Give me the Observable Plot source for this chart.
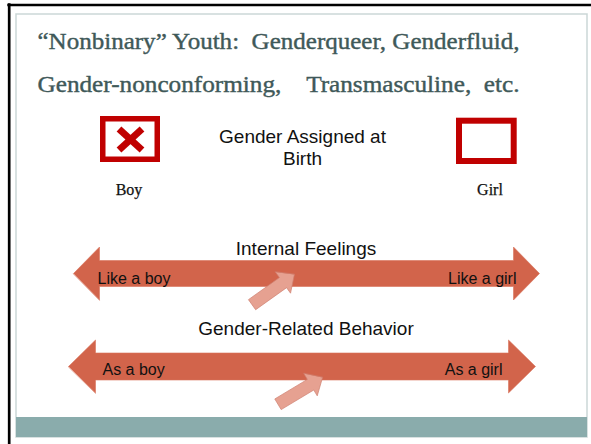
<!DOCTYPE html>
<html><head><meta charset="utf-8">
<script src="https://cdn.jsdelivr.net/npm/d3@7"></script>
<script src="https://cdn.jsdelivr.net/npm/@observablehq/plot@0.6"></script>
<style>body{margin:0;background:#fff} svg text{white-space:pre}</style>
</head><body><div id="chart"></div>
<script>
// ---- content ----
const titleLines = ["\u201CNonbinary\u201D Youth:  Genderqueer, Genderfluid,", "Gender-nonconforming,    Transmasculine,  etc."];
const headerLines = ["Gender Assigned at", "Birth"];
const sexLabels = ["Boy", "Girl"];
const sexMarked = [true, false];
const spectrumTitles = ["Internal Feelings", "Gender-Related Behavior"];
const leftEnds = ["Like a boy", "As a boy"];
const rightEnds = ["Like a girl", "As a girl"];
const youthPositions = [0.474, 0.544]; // 0 = boy end, 1 = girl end of each spectrum

// ---- layout ----
const W = 591, H = 444;
const titleBase = [48, 91], titleX = 37, titleWidth = 482, titleSize = 23;
const headerX = 302, headerBase = [142, 164], headerSize = 19;
const boxX1 = [102.75, 459], boxX2 = [157.25, 513.7], boxY1 = [118.75, 120.7], boxY2 = [159.25, 161], boxSW = [5.5, 6];
const sexLabelX = [128.5, 489.5], sexLabelBase = 194;
const rowY = [273, 366], rowXL = [73, 68], rowXR = [539, 535];
const shaftHalf = [13, 13.5], headHalf = [26.5, 26.5], headLen = [26, 27];
const rowTitleX = 305.5, rowTitleBase = [254, 334], rowTitleSize = 19;
const endBase = [283, 374], endInsetL = [24, 34], endInsetR = [23, 33], endSize = 16;
const pointerDy = [1, 11], pointerAngle = [-35.5, -31];
const red = "#c00000", arrowCol = "#d2644b", pointerCol = "#e6a191", ink = "#111";
const mid = (base, fs) => base - 0.32 * fs;

// big double arrows
const bigArrows = [];
spectrumTitles.forEach((t, i) => {
  const xl = rowXL[i], xr = rowXR[i], yc = rowY[i], s = shaftHalf[i], hh = headHalf[i], hl = headLen[i];
  [[xl, yc], [xl + hl, yc - hh], [xl + hl, yc - s], [xr - hl, yc - s], [xr - hl, yc - hh], [xr, yc],
   [xr - hl, yc + hh], [xr - hl, yc + s], [xl + hl, yc + s], [xl + hl, yc + hh]]
    .forEach(([x, y]) => bigArrows.push({id: t, x, y}));
});

// pointer arrows placed at the youth's position on each spectrum
const pointers = [];
youthPositions.forEach((p, i) => {
  const tx = rowXL[i] + p * (rowXR[i] - rowXL[i]), ty = rowY[i] + pointerDy[i];
  const th = pointerAngle[i] * Math.PI / 180, ux = Math.cos(th), uy = Math.sin(th), nx = -uy, ny = ux;
  [[0, 0], [-14, 13], [-14, 6.2], [-52, 6.2], [-52, -6.2], [-14, -6.2], [-14, -13]]
    .forEach(([a, b]) => pointers.push({id: i, x: tx + a * ux + b * nx, y: ty + a * uy + b * ny}));
});

const crossLinks = sexMarked.flatMap((m, i) => m ? [
  {x1: (boxX1[i] + boxX2[i]) / 2 - 11.5, y1: (boxY1[i] + boxY2[i]) / 2 - 10.5, x2: (boxX1[i] + boxX2[i]) / 2 + 11.5, y2: (boxY1[i] + boxY2[i]) / 2 + 10.5},
  {x1: (boxX1[i] + boxX2[i]) / 2 + 11.5, y1: (boxY1[i] + boxY2[i]) / 2 - 10.5, x2: (boxX1[i] + boxX2[i]) / 2 - 11.5, y2: (boxY1[i] + boxY2[i]) / 2 + 10.5}
] : []);

const boxes = sexLabels.map((l, i) => ({x1: boxX1[i], x2: boxX2[i], y1: boxY1[i], y2: boxY2[i], sw: boxSW[i]}));

const serif = "Liberation Serif, Times New Roman, serif";
const sans = "Liberation Sans, Arial, sans-serif";

const chart = Plot.plot({
  width: W, height: H, margin: 0,
  x: {domain: [0, W], range: [0, W], axis: null},
  y: {domain: [0, H], range: [0, H], axis: null},
  marks: [
    // slide frame
    Plot.rect([0], {x1: 16, x2: 587, y1: 14, y2: 437, fill: "none", stroke: "#cbd7d7", strokeWidth: 1.5}),
    Plot.rect([0], {x1: 16, x2: 587, y1: 417, y2: 437, fill: "#8aacac"}),
    Plot.ruleX([8.7], {y1: 3.3, y2: H, stroke: "#000", strokeWidth: 2.7}),
    Plot.ruleY([4.5], {x1: 7.3, x2: W, stroke: "#000", strokeWidth: 2.4}),
    // title
    Plot.text(titleLines, {x: titleX, y: (d, i) => mid(titleBase[i], titleSize), text: d => d, textAnchor: "start",
      fontFamily: serif, fontSize: titleSize, fill: "#3f5959", stroke: "#3f5959", strokeWidth: 0.4}),
    // header
    Plot.text(headerLines, {x: headerX, y: (d, i) => mid(headerBase[i], headerSize), text: d => d,
      fontFamily: sans, fontSize: headerSize, fill: ink}),
    // boxes
    ...boxes.map(b => Plot.rect([b], {x1: "x1", x2: "x2", y1: "y1", y2: "y2", fill: "#fff", stroke: red, strokeWidth: b.sw})),
    Plot.link(crossLinks, {x1: "x1", y1: "y1", x2: "x2", y2: "y2", stroke: red, strokeWidth: 7, strokeLinecap: "butt"}),
    Plot.text(sexLabels, {x: (d, i) => sexLabelX[i], y: mid(sexLabelBase, 16), text: d => d, fontFamily: serif, fontSize: 16,
      fill: ink, stroke: ink, strokeWidth: 0.25}),
    // spectra
    Plot.line(bigArrows, {x: "x", y: "y", z: "id", curve: "linear-closed", fill: arrowCol, stroke: "#d9735c", strokeWidth: 0.6}),
    Plot.text(spectrumTitles, {x: rowTitleX, y: (d, i) => mid(rowTitleBase[i], rowTitleSize), text: d => d,
      fontFamily: sans, fontSize: rowTitleSize, fill: ink}),
    Plot.text(leftEnds, {x: (d, i) => rowXL[i] + endInsetL[i], y: (d, i) => mid(endBase[i], endSize), text: d => d,
      textAnchor: "start", fontFamily: sans, fontSize: endSize, fill: ink}),
    Plot.text(rightEnds, {x: (d, i) => rowXR[i] - endInsetR[i], y: (d, i) => mid(endBase[i], endSize), text: d => d,
      textAnchor: "end", fontFamily: sans, fontSize: endSize, fill: ink}),
    Plot.line(pointers, {x: "x", y: "y", z: "id", curve: "linear-closed", fill: pointerCol, stroke: "#cf8070", strokeWidth: 0.7})
  ]
});
document.getElementById("chart").appendChild(chart);
// fit title lines to the slide's title width
d3.select(chart).selectAll("text").filter(function () { return titleLines.includes(this.textContent); })
  .attr("textLength", titleWidth).attr("lengthAdjust", "spacingAndGlyphs");
</script></body></html>
